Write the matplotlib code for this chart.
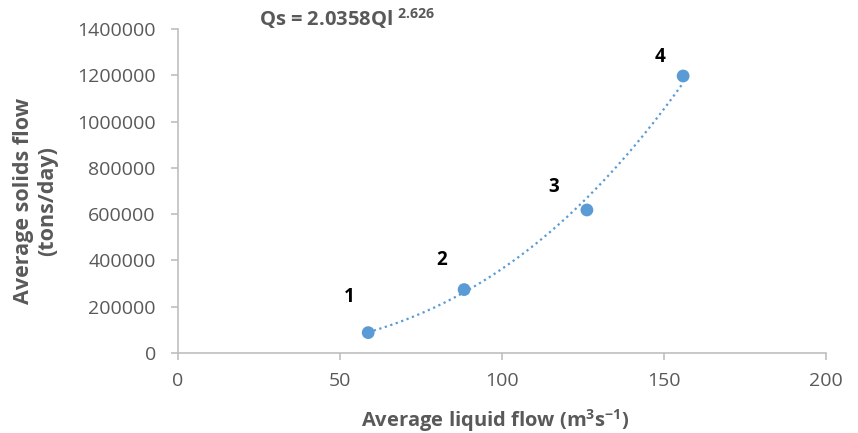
import matplotlib
matplotlib.use("Agg")
import matplotlib.pyplot as plt
import numpy as np

plt.rcParams['font.family'] = ['Open Sans', 'DejaVu Sans']
plt.rcParams['mathtext.fontset'] = 'custom'
plt.rcParams['mathtext.rm'] = 'Open Sans'
plt.rcParams['mathtext.it'] = 'Open Sans'
plt.rcParams['mathtext.bf'] = 'Open Sans:bold'

liquid_flow = [58.7, 88.3, 126.2, 155.9]
solids_flow = [88000, 274000, 618000, 1197000]
point_labels = ["1", "2", "3", "4"]
coef_a = 2.0358
coef_b = 2.626
x_ticks = [0, 50, 100, 150, 200]
y_ticks = [0, 200000, 400000, 600000, 800000, 1000000, 1200000, 1400000]

gray = "#595959"
axis_gray = "#bfbfbf"
blue = "#5b9bd5"

fig = plt.figure(figsize=(8.58, 4.33), dpi=100)
ax = fig.add_axes([0.2075, 0.1848, 0.7552, 0.7482])

xs = np.linspace(min(liquid_flow), max(liquid_flow), 200)
ax.plot(xs, coef_a * xs ** coef_b, linestyle=(0, (1, 1.6)), color=blue, linewidth=1.6, zorder=2)
ax.scatter(liquid_flow, solids_flow, s=85, color=blue, zorder=3, edgecolors='none')

offsets = [(-13.7, 26), (-16.5, 21), (-23.8, 16.5), (-16.5, 13.7)]
for x, y, lab, off in zip(liquid_flow, solids_flow, point_labels, offsets):
    ax.annotate(lab, (x, y), xytext=off, textcoords='offset points',
                fontsize=13.5, fontweight='bold', color='black', ha='center', va='center')

ax.set_xlim(0, 200)
ax.set_ylim(0, 1400000)
ax.set_xticks(x_ticks)
ax.set_yticks(y_ticks)
ax.set_xticklabels([str(t) for t in x_ticks])
ax.set_yticklabels([str(t) for t in y_ticks])

for s in ['top', 'right']:
    ax.spines[s].set_visible(False)
for s in ['left', 'bottom']:
    ax.spines[s].set_color(axis_gray)
    ax.spines[s].set_linewidth(1.2)
ax.tick_params(axis='both', colors=axis_gray, labelcolor=gray, labelsize=14, length=5, width=1.2)
ax.tick_params(axis='y', pad=11)
ax.tick_params(axis='x', pad=9)

ax.set_xlabel(r"Average liquid flow (m$\mathbf{^{3}}$s$\mathbf{^{-1}}$)", fontsize=14.5, fontweight='bold', color=gray)
ax.xaxis.set_label_coords(0.49, -0.168)
ax.set_ylabel("Average solids flow\n(tons/day)", fontsize=15.5, fontweight='bold', color=gray, linespacing=1.2)
ax.yaxis.set_label_coords(-0.185, 0.47)

fig.text(0.302, 0.958, r"Qs = 2.0358Ql $\mathbf{^{2.626}}$", fontsize=14.5, fontweight='bold', color=gray, va='center', ha='left')

fig.savefig("out.png", dpi=100)
